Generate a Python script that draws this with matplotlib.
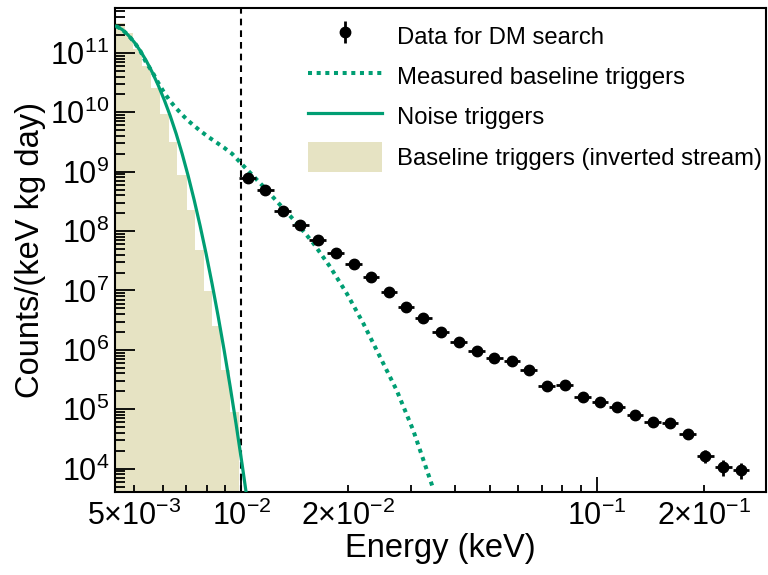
import numpy as np
import matplotlib
matplotlib.use("Agg")
import matplotlib.pyplot as plt
from matplotlib.legend_handler import HandlerErrorbar
from matplotlib.container import ErrorbarContainer

plt.rcParams['font.family'] = ['Liberation Sans', 'DejaVu Sans']
plt.rcParams['mathtext.fontset'] = 'custom'
plt.rcParams['mathtext.rm'] = 'Liberation Sans'
plt.rcParams['mathtext.it'] = 'Liberation Sans:italic'
plt.rcParams['mathtext.bf'] = 'Liberation Sans:bold'
plt.rcParams['mathtext.sf'] = 'Liberation Sans'

# ---------------- data ----------------
# Data for DM search (keV, counts/(keV kg day))
data_energy = [0.01041, 0.01168, 0.01306, 0.01464, 0.01638, 0.01840, 0.02067, 0.02313,
               0.02600, 0.02906, 0.03252, 0.03639, 0.04088, 0.04592, 0.05146, 0.05771,
               0.06433, 0.07220, 0.08116, 0.09117, 0.1020, 0.1140, 0.1279, 0.1434,
               0.1606, 0.1801, 0.2020, 0.2270, 0.2542]
data_counts = [7.83e8, 4.98e8, 2.2e8, 1.25e8, 6.97e7, 4.28e7, 2.83e7, 1.66e7,
               9.44e6, 5.2e6, 3.44e6, 2.0e6, 1.34e6, 9.7e5, 7.2e5, 6.4e5,
               4.52e5, 2.47e5, 2.6e5, 1.61e5, 1.31e5, 1.09e5, 8.0e4, 6.0e4,
               5.88e4, 3.84e4, 1.66e4, 1.08e4, 9.5e3]
data_rel_err = [0.01, 0.01, 0.01, 0.01, 0.01, 0.02, 0.02, 0.02,
                0.02, 0.03, 0.03, 0.03, 0.04, 0.04, 0.05, 0.05,
                0.05, 0.06, 0.06, 0.07, 0.07, 0.08, 0.08, 0.09,
                0.09, 0.1, 0.25, 0.3, 0.3]
bin_half_dex = 0.0235  # half bin width in log10(E)

# Baseline triggers (inverted stream) histogram
hist_edges = [0.00435, 0.00469, 0.00496, 0.00526, 0.00558, 0.00590, 0.00625, 0.00661,
              0.00701, 0.00741, 0.00783, 0.00829, 0.00878, 0.00931, 0.00987]
hist_counts = [3.14e11, 2.16e11, 1.15e11, 6.09e10, 2.56e10, 9.36e9, 3.11e9,
               8.9e8, 2.26e8, 4.86e7, 9.66e6, 2.55e6, 4.59e5, 8.87e4]

# Noise triggers (solid)
noise_energy = [0.004446, 0.004621, 0.004804, 0.004994, 0.005192, 0.005397, 0.005611,
                0.005833, 0.006064, 0.006304, 0.006554, 0.006813, 0.007083, 0.007363,
                0.007655, 0.007958, 0.008273, 0.008600, 0.008941, 0.009295, 0.009663,
                0.010045, 0.01031]
noise_counts = [2.81e11, 2.47e11, 1.99e11, 1.52e11, 1.09e11, 7.41e10, 4.74e10,
                2.86e10, 1.63e10, 8.75e9, 4.35e9, 2.0e9, 8.51e8, 3.35e8,
                1.22e8, 4.12e7, 1.28e7, 3.70e6, 9.89e5, 2.44e5, 5.59e4,
                1.18e4, 3.98e3]

# Measured baseline triggers (dotted)
base_energy = [0.004446, 0.004621, 0.004804, 0.004994, 0.005192, 0.005397, 0.005611,
               0.005833, 0.006064, 0.006304, 0.006554, 0.006813, 0.007083, 0.007363,
               0.007655, 0.00806, 0.008489, 0.008941, 0.009416, 0.01000, 0.010717,
               0.011528, 0.012846, 0.014309, 0.015937, 0.017754, 0.019777, 0.022025,
               0.024536, 0.027331, 0.030428, 0.034635]
base_counts = [2.81e11, 2.47e11, 1.99e11, 1.52e11, 1.09e11, 6.85e10, 4.83e10,
               3.15e10, 2.14e10, 1.54e10, 1.17e10, 9.10e9, 7.21e9, 5.93e9,
               4.89e9, 3.87e9, 3.13e9, 2.53e9, 2.0e9, 1.36e9, 8.85e8,
               5.62e8, 2.76e8, 1.36e8, 6.23e7, 2.51e7, 8.95e6, 2.79e6,
               7.63e5, 2.09e5, 4.43e4, 4.60e3]

threshold = 0.01

x_major = [1e-2, 1e-1]
x_major_labels = [r'$10^{-2}$', r'$10^{-1}$']
x_minor = [5e-3, 6e-3, 7e-3, 8e-3, 9e-3, 2e-2, 3e-2, 4e-2, 5e-2, 6e-2, 7e-2, 8e-2, 9e-2, 2e-1]
x_minor_labels = [r'$5{\times}10^{-3}$', '', '', '', '', r'$2{\times}10^{-2}$', '', '', '', '', '', '', '',
                  r'$2{\times}10^{-1}$']
y_major = [1e4, 1e5, 1e6, 1e7, 1e8, 1e9, 1e10, 1e11]
y_major_labels = [r'$10^{4}$', r'$10^{5}$', r'$10^{6}$', r'$10^{7}$', r'$10^{8}$', r'$10^{9}$',
                  r'$10^{10}$', r'$10^{11}$']

GREEN = '#009E73'
BEIGE = '#e6e3c3'

fig = plt.figure(figsize=(7.68, 5.75), dpi=100)
ax = fig.add_axes([115 / 768, 1 - 492 / 575, (765.5 - 115) / 768, (492 - 8) / 575])
ax.set_xscale('log')
ax.set_yscale('log')

ax.stairs(hist_counts, hist_edges, fill=True, color=BEIGE, baseline=1.0,
          label='Baseline triggers (inverted stream)', zorder=1)
ax.plot(noise_energy, noise_counts, color=GREEN, lw=2.3, label='Noise triggers', zorder=3,
        solid_joinstyle='round')
ax.plot(base_energy, base_counts, color=GREEN, lw=2.9, linestyle=(0, (1, 1.15)),
        dash_capstyle='butt', label='Measured baseline triggers', zorder=3)
ax.axvline(threshold, color='black', lw=1.5, linestyle=(0, (3.2, 2.4)), zorder=2)

E = np.array(data_energy)
C = np.array(data_counts)
xerr = [E - E * 10 ** (-bin_half_dex), E * 10 ** bin_half_dex - E]
yerr = C * np.array(data_rel_err)
eb = ax.errorbar(E, C, xerr=xerr, yerr=yerr, fmt='o', color='black', ms=7.5,
                 elinewidth=2.0, capsize=0, label='Data for DM search', zorder=5)

ax.set_xlim(4.41e-3, 0.298)
ax.set_ylim(4.04e3, 5.7e11)

ax.set_xticks(x_major)
ax.set_xticklabels(x_major_labels)
ax.set_xticks(x_minor, minor=True)
ax.set_xticklabels(x_minor_labels, minor=True)
ax.set_yticks(y_major)
ax.set_yticklabels(y_major_labels)
ax.yaxis.set_minor_locator(matplotlib.ticker.LogLocator(base=10, subs=np.arange(2, 10) * 1.0, numticks=30))
ax.yaxis.set_minor_formatter(matplotlib.ticker.NullFormatter())

ax.tick_params(axis='both', which='both', direction='in', labelsize=22, width=1.3, color='black')
ax.tick_params(axis='y', which='major', length=14.4, pad=4)
ax.tick_params(axis='y', which='minor', length=7.2)
ax.tick_params(axis='x', which='major', length=10.8, pad=6)
ax.tick_params(axis='x', which='minor', length=5.4, pad=6)
for s in ax.spines.values():
    s.set_linewidth(1.5)
    s.set_color('black')

ax.set_xlabel('Energy (keV)', fontsize=23.5, labelpad=1)
ax.set_ylabel('Counts/(keV kg day)', fontsize=23.5, labelpad=3)

handles, labels = ax.get_legend_handles_labels()
order = ['Data for DM search', 'Measured baseline triggers', 'Noise triggers',
         'Baseline triggers (inverted stream)']
hmap = dict(zip(labels, handles))
leg = fig.legend([hmap[k] for k in order], order, loc='upper left',
                 bbox_to_anchor=(308 / 768, 1 - 21 / 575), frameon=False, fontsize=17.2,
                 handlelength=3.1, handletextpad=0.63, handleheight=1.554,
                 labelspacing=0.43, borderpad=0, borderaxespad=0, numpoints=1,
                 handler_map={ErrorbarContainer: HandlerErrorbar(xerr_size=0, yerr_size=0.46)})

fig.savefig('out.png', dpi=100)
